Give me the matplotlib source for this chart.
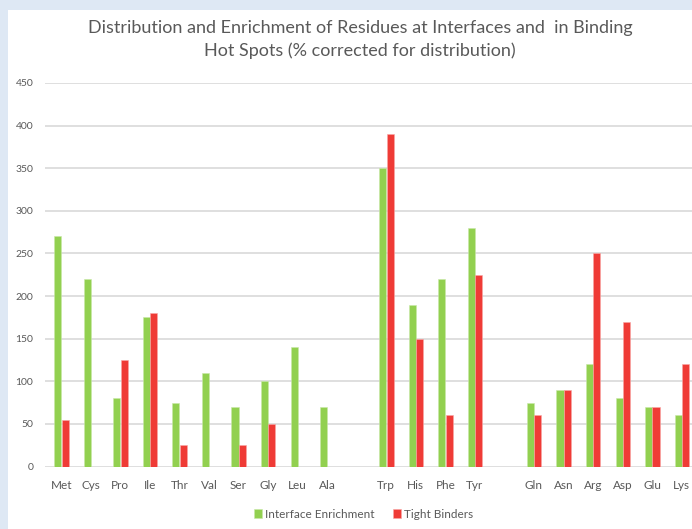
import matplotlib.pyplot as plt
import matplotlib.patches as mpatches
import numpy as np

# residues, grouped with a blank slot between the groups
residues = ['Met', 'Cys', 'Pro', 'Ile', 'Thr', 'Val', 'Ser', 'Gly', 'Leu', 'Ala',
            'Trp', 'His', 'Phe', 'Tyr',
            'Gln', 'Asn', 'Arg', 'Asp', 'Glu', 'Lys']
slots = [0, 1, 2, 3, 4, 5, 6, 7, 8, 9,
         11, 12, 13, 14,
         16, 17, 18, 19, 20, 21]
interface_enrichment = [270, 220, 80, 175, 75, 110, 70, 100, 140, 70,
                        350, 190, 220, 280,
                        75, 90, 120, 80, 70, 60]
tight_binders = [55, 0, 125, 180, 25, 0, 25, 50, 0, 0,
                 390, 150, 60, 225,
                 60, 90, 250, 170, 70, 120]
yticks = [0, 50, 100, 150, 200, 250, 300, 350, 400, 450]

plt.rcParams['font.family'] = ['Lato', 'DejaVu Sans']

green = '#92d050'
red = '#ef3b36'
grey = '#595959'

fig = plt.figure(figsize=(6.92, 5.29), dpi=100, facecolor='#dee8f4')
# white slide panel behind everything
fig.patches.append(mpatches.Rectangle((8 / 692, 0), 1, 1 - 10 / 529,
                                      transform=fig.transFigure,
                                      facecolor='white', edgecolor='none', zorder=-10))

ax = fig.add_axes([45 / 692, 1 - 466.5 / 529, 650 / 692, (466.5 - 83) / 529])
ax.set_zorder(1)
ax.set_facecolor('none')

x = np.array(slots)
w = 0.24
ax.bar(x - 0.12, interface_enrichment, w, color=green, edgecolor='#c8e8a8',
       linewidth=0.4, label='Interface Enrichment', zorder=3)
ax.bar(x + 0.13, tight_binders, w, color=red, edgecolor='#f8a8a6',
       linewidth=0.4, label='Tight Binders', zorder=3)

ax.set_xlim(-0.55, 21.45)
ax.set_ylim(0, 450)
ax.set_yticks(yticks)
ax.set_xticks(slots)
ax.set_xticklabels(residues)
ax.grid(axis='y', color='#d9d9d9', linewidth=1.2, zorder=0)
for s in ax.spines.values():
    s.set_visible(False)
ax.tick_params(axis='both', length=0, colors=grey)
ax.tick_params(axis='y', labelsize=7.5, pad=8.5)
ax.tick_params(axis='x', labelsize=8.5, pad=10)

fig.text(0.52, 0.948, 'Distribution and Enrichment of Residues at Interfaces and  in Binding',
         ha='center', va='center', fontsize=13, color=grey)
fig.text(0.52, 0.905, 'Hot Spots (% corrected for distribution)',
         ha='center', va='center', fontsize=13, color=grey)

fig.legend(loc='center', bbox_to_anchor=(0.525, 0.028), ncol=2, frameon=False,
           fontsize=8.5, handlelength=0.7, handleheight=0.7, handletextpad=0.2,
           columnspacing=1.6, labelcolor=grey)

fig.savefig('out.png', dpi=100, facecolor=fig.get_facecolor())
